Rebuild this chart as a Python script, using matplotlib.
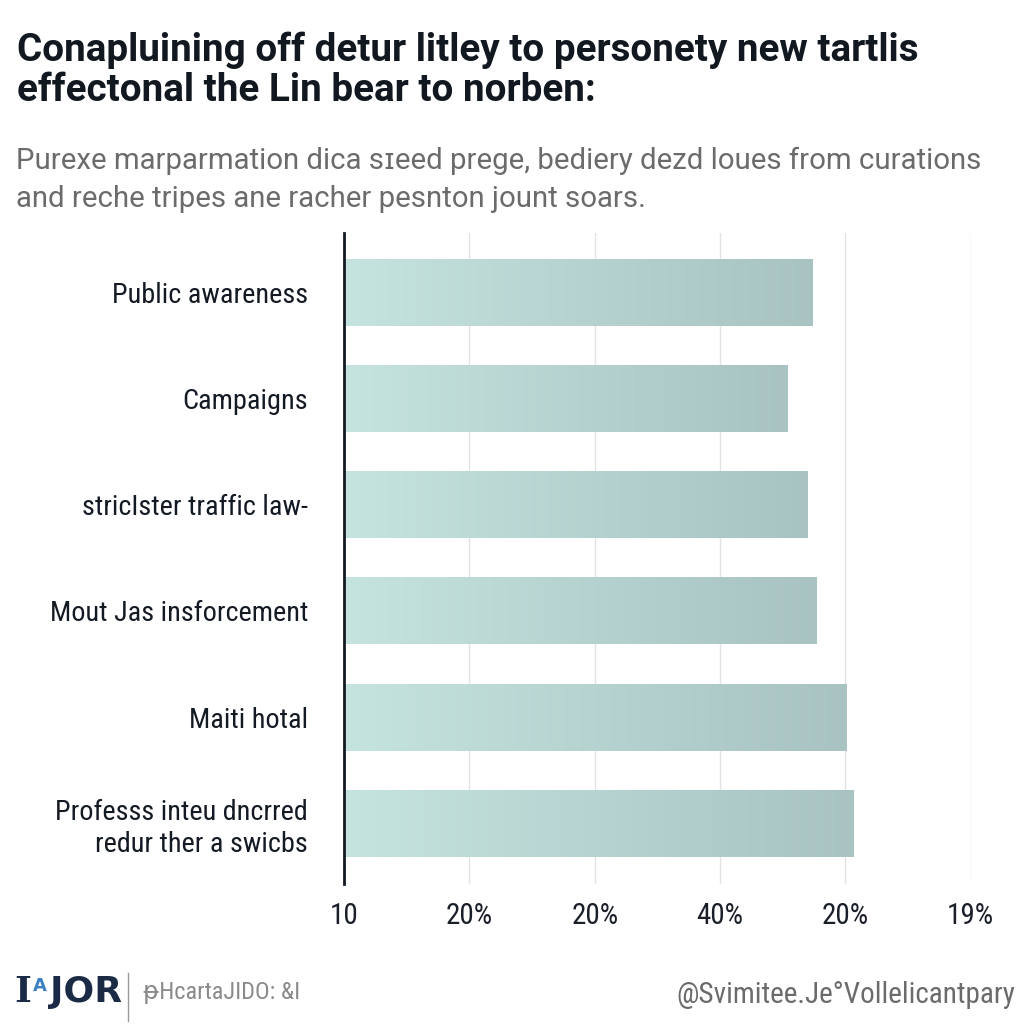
import numpy as np
import matplotlib.pyplot as plt
from matplotlib.colors import LinearSegmentedColormap

plt.rcParams['font.family'] = ['Roboto Condensed', 'IBM Plex Sans Condensed', 'DejaVu Sans']

categories = [
    'Public awareness',
    'Campaigns',
    'stricIster traffic law-',
    'Mout Jas insforcement',
    'Maiti hotal',
    'Professs inteu dncrred\nredur ther a swicbs',
]
values = [74.8, 70.7, 74.0, 75.4, 80.2, 81.3]
tick_values = [0, 20, 40, 60, 80, 100]
tick_labels = ['10', '20%', '20%', '40%', '20%', '19%']

title = 'Conapluining off detur litley to personety new tartlis\neffectonal the Lin bear to norben:'
subtitle = 'Purexe marparmation dica sɪeed prege, bediery dezd loues from curations\nand reche tripes ane racher pesnton jount soars.'

fig = plt.figure(figsize=(10.24, 10.24), dpi=100)
fig.patch.set_facecolor('white')
ax = fig.add_axes([0.336, 0.137, 0.612, 0.635])

cmap = LinearSegmentedColormap.from_list('bar', ['#c5e3df', '#a8c3c2'])
grad = np.linspace(0, 1, 256).reshape(1, -1)

y = np.arange(len(categories))
bars = ax.barh(y, values, height=0.63, color='none', edgecolor='none', zorder=2)
for b in bars:
    x0, y0 = b.get_x(), b.get_y()
    w, h = b.get_width(), b.get_height()
    im = ax.imshow(grad, cmap=cmap, aspect='auto', extent=(x0, x0 + w, y0 + h, y0),
                   zorder=2, interpolation='bilinear')
    im.set_clip_path(b)

ax.set_xlim(0, 100)
ax.set_ylim(len(categories) - 0.43, -0.556)
ax.set_xticks(tick_values)
ax.set_xticklabels(tick_labels, fontsize=21, color='#1a1f2a')
ax.set_yticks(y)
ax.set_yticklabels(categories, fontsize=20.3, color='#141a24', linespacing=1.25)
ax.tick_params(axis='both', length=0)
ax.tick_params(axis='x', pad=13)
ax.tick_params(axis='y', pad=26)
ax.grid(axis='x', color='#e3e3e3', linewidth=1.0, zorder=0)
ax.set_axisbelow(True)
for s in ['top', 'right', 'bottom']:
    ax.spines[s].set_visible(False)
ax.spines['left'].set_color('#141a24')
ax.spines['left'].set_linewidth(2)
ax.spines['left'].set_zorder(3)

fig.text(0.017, 0.969, title, fontsize=27.8, fontweight='bold', color='#121820',
         family=['Roboto', 'DejaVu Sans'], va='top', ha='left', linespacing=1.1)
fig.text(0.016, 0.857, subtitle, fontsize=21.2, color='#6b6b6b',
         family=['Roboto', 'DejaVu Sans'], va='top', ha='left', linespacing=1.45)

# footer
fig.text(0.014, 0.031, 'I', fontsize=26, fontweight='bold', color='#1c2b45',
         family='DejaVu Serif', va='center', ha='left')
fig.text(0.032, 0.037, 'A', fontsize=13, fontweight='bold', color='#3b7fc4',
         family='DejaVu Sans', va='center', ha='left')
fig.text(0.049, 0.031, 'JOR', fontsize=26, fontweight='bold', color='#1c2b45',
         family='DejaVu Sans', va='center', ha='left')
fig.add_artist(plt.Line2D([0.125, 0.125], [0.003, 0.05], color='#9a9a9a', linewidth=1))
fig.text(0.140, 0.031, 'ᵽHcartaJIDO: &I', fontsize=17.5, color='#8a8a8a',
         va='center', ha='left')
fig.text(0.991, 0.028, '@Svimitee.Je°Vollelicantpary', fontsize=21, color='#6b6b6b',
         va='center', ha='right')

fig.savefig('out.png', dpi=100, facecolor='white')
